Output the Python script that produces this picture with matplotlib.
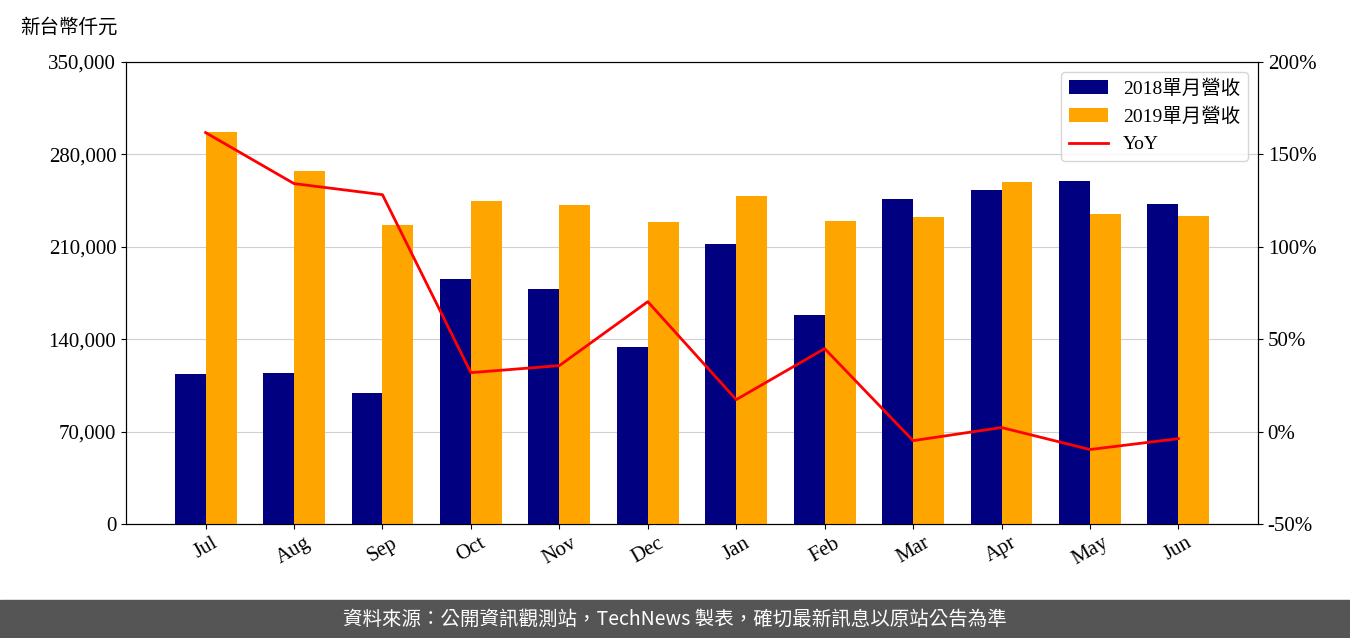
import matplotlib.pyplot as plt
import numpy as np

plt.rcParams['font.family'] = ['Liberation Serif', 'Noto Sans CJK TC']

months = ['Jul', 'Aug', 'Sep', 'Oct', 'Nov', 'Dec', 'Jan', 'Feb', 'Mar', 'Apr', 'May', 'Jun']
rev_2018 = [113600, 114400, 99200, 185600, 178000, 134100, 212100, 158300, 246200, 253000, 259800, 242400]
rev_2019 = [297000, 267400, 226500, 244700, 241700, 228800, 248500, 229500, 232600, 259100, 234800, 233300]
yoy = [161.8, 134.2, 128.2, 31.9, 35.7, 70.3, 17.3, 44.9, -4.9, 2.2, -9.7, -3.8]

fig = plt.figure(figsize=(13.5, 6.38), dpi=100)
ax = fig.add_axes([126/1350, 1 - 524/638, (1258-126)/1350, (524-62)/638])
x = np.arange(len(months))
w = 0.35
b1 = ax.bar(x - w/2, rev_2018, w, color='#000080', label='2018單月營收', zorder=3)
b2 = ax.bar(x + w/2, rev_2019, w, color='#FFA500', label='2019單月營收', zorder=3)
ax.set_ylim(0, 350000)
ax.set_yticks(np.arange(0, 350001, 70000))
ax.set_yticklabels([f'{v:,}' for v in range(0, 350001, 70000)], fontsize=15)
ax.set_xticks(x)
ax.set_xticklabels(months, rotation=30, fontsize=15)
ax.set_xlim(-0.9, 11.9)
ax.grid(axis='y', color='#d0d0d0', zorder=0)

ax2 = ax.twinx()
l1, = ax2.plot(x, yoy, color='red', lw=2, label='YoY')
ax2.set_ylim(-50, 200)
ax2.set_yticks(np.arange(-50, 201, 50))
ax2.set_yticklabels([f'{v}%' for v in range(-50, 201, 50)], fontsize=15)

ax.legend([b1, b2, l1], ['2018單月營收', '2019單月營收', 'YoY'], loc='upper right', fontsize=14)
fig.text(20/1350, 1 - 27/638, '新台幣仟元', fontsize=14, va='center')

fig.patches.append(plt.Rectangle((0, 0), 1, 38/638, transform=fig.transFigure, color='#555555'))
fig.text(0.5, 19/638, '資料來源：公開資訊觀測站，TechNews 製表，確切最新訊息以原站公告為準',
         color='white', fontsize=14, ha='center', va='center', family=['Noto Sans CJK TC'])
fig.savefig('out.png')
